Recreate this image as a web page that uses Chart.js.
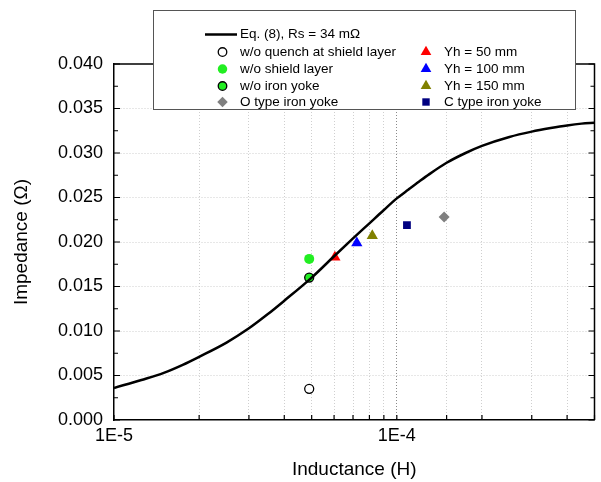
<!DOCTYPE html>
<html>
<head>
<meta charset="utf-8">
<script src="https://cdn.jsdelivr.net/npm/chart.js@4.4.1/dist/chart.umd.min.js"></script>
<style>
  body { margin: 0; background: #fff; }
  #wrap { width: 601px; height: 482px; }
</style>
</head>
<body>
<div id="wrap"><canvas id="impChart" width="601" height="482"></canvas></div>
<script>
// Eq. (8) curve
var curveL = [1e-5, 1.25e-5, 1.5e-5, 1.75e-5, 2e-5, 2.5e-5, 3e-5, 3.5e-5, 4e-5, 5e-5, 6e-5, 7e-5, 8e-5, 9e-5,
              1e-4, 1.1e-4, 1.2e-4, 1.3e-4, 1.5e-4, 1.75e-4, 2e-4, 2.5e-4, 3e-4, 3.5e-4, 4e-4, 4.5e-4, 5e-4];
var curveZ = [0.0036, 0.0045, 0.0053, 0.0062, 0.0071, 0.0087, 0.0103, 0.0119, 0.0134, 0.0160, 0.0184, 0.0204, 0.0221, 0.0236,
              0.0249, 0.0259, 0.0268, 0.0276, 0.0289, 0.0300, 0.0308, 0.0318, 0.0324, 0.0328, 0.0331, 0.0333, 0.0334];

// measured points [inductance, impedance]
var noQuench    = [4.9e-5, 0.0035];
var noShield    = [4.9e-5, 0.0181];
var noYoke      = [4.9e-5, 0.0160];
var oTypeYoke   = [1.47e-4, 0.0228];
var yh50        = [6.04e-5, 0.0183];
var yh100       = [7.22e-5, 0.0199];
var yh150       = [8.19e-5, 0.0207];
var cTypeYoke   = [1.086e-4, 0.0219];

var FONT = "'Liberation Sans', Arial, sans-serif";

function pt(a) { return [{x: a[0], y: a[1]}]; }

var curveData = curveL.map(function(l, i) { return {x: l, y: curveZ[i]}; });

var datasets = [
  { label: 'Eq. (8), Rs = 34 mΩ', data: curveData, showLine: true, borderColor: '#000', borderWidth: 2.5,
    pointRadius: 0, cubicInterpolationMode: 'monotone', legendLine: true },
  { label: 'w/o quench at shield layer', data: pt(noQuench), pointStyle: 'circle', pointRadius: 4.5,
    backgroundColor: '#fff', borderColor: '#000', borderWidth: 1.3, col: 0, row: 0 },
  { label: 'w/o shield layer', data: pt(noShield), pointStyle: 'circle', pointRadius: 5,
    backgroundColor: '#22ee22', borderColor: '#22ee22', borderWidth: 0, col: 0, row: 1 },
  { label: 'w/o iron yoke', data: pt(noYoke), pointStyle: 'circle', pointRadius: 4.5,
    backgroundColor: '#22ee22', borderColor: '#000', borderWidth: 1.3, col: 0, row: 2 },
  { label: 'O type iron yoke', data: pt(oTypeYoke), pointStyle: 'rectRot', pointRadius: 5.5,
    backgroundColor: '#808080', borderColor: '#808080', borderWidth: 0, col: 0, row: 3 },
  { label: 'Yh = 50 mm', data: pt(yh50), pointStyle: 'triangle', pointRadius: 6.5,
    backgroundColor: '#ff0000', borderColor: '#ff0000', borderWidth: 0, col: 1, row: 0 },
  { label: 'Yh = 100 mm', data: pt(yh100), pointStyle: 'triangle', pointRadius: 6.5,
    backgroundColor: '#0000ff', borderColor: '#0000ff', borderWidth: 0, col: 1, row: 1 },
  { label: 'Yh = 150 mm', data: pt(yh150), pointStyle: 'triangle', pointRadius: 6.5,
    backgroundColor: '#808000', borderColor: '#808000', borderWidth: 0, col: 1, row: 2 },
  { label: 'C type iron yoke', data: pt(cTypeYoke), pointStyle: 'rect', pointRadius: 5.5,
    backgroundColor: '#000080', borderColor: '#000080', borderWidth: 0, col: 1, row: 3 }
];

function isPow10(v) {
  var l = Math.log10(v);
  return Math.abs(l - Math.round(l)) < 1e-9;
}
function isMajorY(v) {
  var k = v / 0.005;
  return Math.abs(k - Math.round(k)) < 1e-6;
}

// frame, inward ticks and the boxed legend
var framePlugin = {
  id: 'frame',
  afterDraw: function(chart) {
    var ctx = chart.ctx, a = chart.chartArea, xs = chart.scales.x, ys = chart.scales.y;
    ctx.save();
    ctx.strokeStyle = '#000';
    ctx.lineWidth = 1.5;
    ctx.beginPath();
    ctx.moveTo(a.left, a.top);
    ctx.lineTo(a.right, a.top);
    ctx.lineTo(a.right, a.bottom);
    ctx.stroke();

    ctx.lineWidth = 1.2;
    ctx.beginPath();
    xs.ticks.forEach(function(t) {
      var px = xs.getPixelForValue(t.value);
      ctx.moveTo(px, a.bottom);
      ctx.lineTo(px, a.bottom - 5);
    });
    ys.ticks.forEach(function(t) {
      var py = ys.getPixelForValue(t.value);
      var len = isMajorY(t.value) ? 6 : 4;
      ctx.moveTo(a.left, py);
      ctx.lineTo(a.left + len, py);
      ctx.moveTo(a.right, py);
      ctx.lineTo(a.right - len, py);
    });
    ctx.stroke();

    // legend box
    var bx = 153, by = 10, bw = 422, bh = 99;
    ctx.fillStyle = '#fff';
    ctx.fillRect(bx, by, bw, bh);
    ctx.strokeStyle = '#555';
    ctx.lineWidth = 1;
    ctx.strokeRect(bx + 0.5, by + 0.5, bw, bh);

    ctx.font = '13.5px ' + FONT;
    ctx.textBaseline = 'middle';
    ctx.textAlign = 'left';
    var colMarker = [222.5, 426], colText = [240, 444];
    var rowY = [52, 69, 86, 102];
    chart.data.datasets.forEach(function(ds) {
      if (ds.legendLine) {
        ctx.strokeStyle = ds.borderColor;
        ctx.lineWidth = 2.5;
        ctx.beginPath();
        ctx.moveTo(205, 34.5);
        ctx.lineTo(237, 34.5);
        ctx.stroke();
        ctx.fillStyle = '#000';
        ctx.fillText(ds.label, 240, 34.5);
        return;
      }
      var mx = colMarker[ds.col], my = rowY[ds.row];
      ctx.fillStyle = ds.backgroundColor;
      ctx.strokeStyle = ds.borderColor;
      ctx.lineWidth = ds.borderWidth;
      Chart.helpers.drawPoint(ctx, {
        pointStyle: ds.pointStyle, radius: ds.pointRadius * 0.95, rotation: 0, borderWidth: ds.borderWidth
      }, mx, my);
      ctx.fillStyle = '#000';
      ctx.fillText(ds.label, colText[ds.col], my);
    });
    ctx.restore();
  }
};

var config = {
  type: 'scatter',
  data: { datasets: datasets },
  plugins: [framePlugin],
  options: {
    responsive: false,
    animation: false,
    layout: { padding: { left: 0, right: 4, top: 64, bottom: 0 } },
    plugins: { legend: { display: false }, tooltip: { enabled: false } },
    scales: {
      x: {
        type: 'logarithmic',
        min: 1e-5,
        max: 5e-4,
        afterFit: function(scale) { scale.height = 62; },
        grid: {
          drawTicks: false,
          lineWidth: 1,
          color: function(c) {
            if (!c.tick) return 'rgba(0,0,0,0)';
            var v = c.tick.value;
            if (Math.abs(v - 1e-5) < 1e-12 || Math.abs(v - 5e-4) < 1e-12) return 'rgba(0,0,0,0)';
            return Math.abs(v - 1e-4) < 1e-12 ? '#8a8a8a' : '#cfcfcf';
          }
        },
        border: { display: true, color: '#000', width: 1.5, dash: [1, 2] },
        ticks: {
          autoSkip: false,
          maxRotation: 0,
          padding: 5,
          color: '#000',
          font: { family: FONT, size: 18 },
          callback: function(v) {
            return isPow10(v) ? '1E' + Math.round(Math.log10(v)) : '';
          }
        },
        title: {
          display: true,
          text: 'Inductance (H)',
          color: '#000',
          font: { family: FONT, size: 19 },
          padding: { top: 0, bottom: 1 }
        }
      },
      y: {
        min: 0,
        max: 0.04,
        afterFit: function(scale) { scale.width = 114; },
        grid: {
          drawTicks: false,
          lineWidth: 1,
          color: function(c) {
            if (!c.tick) return 'rgba(0,0,0,0)';
            var v = c.tick.value;
            if (v < 1e-9 || v > 0.0399) return 'rgba(0,0,0,0)';
            return isMajorY(v) ? '#cfcfcf' : 'rgba(0,0,0,0)';
          }
        },
        border: { display: true, color: '#000', width: 1.5, dash: [1, 2] },
        ticks: {
          stepSize: 0.0025,
          autoSkip: false,
          padding: 11,
          color: '#000',
          font: { family: FONT, size: 18 },
          callback: function(v) {
            return isMajorY(v) ? v.toFixed(3) : '';
          }
        },
        title: {
          display: true,
          text: 'Impedance (Ω)',
          color: '#000',
          font: { family: FONT, size: 19 },
          padding: { top: 10, bottom: 0 }
        }
      }
    }
  }
};

window.chart = new Chart(document.getElementById('impChart').getContext('2d'), config);
</script>
</body>
</html>
